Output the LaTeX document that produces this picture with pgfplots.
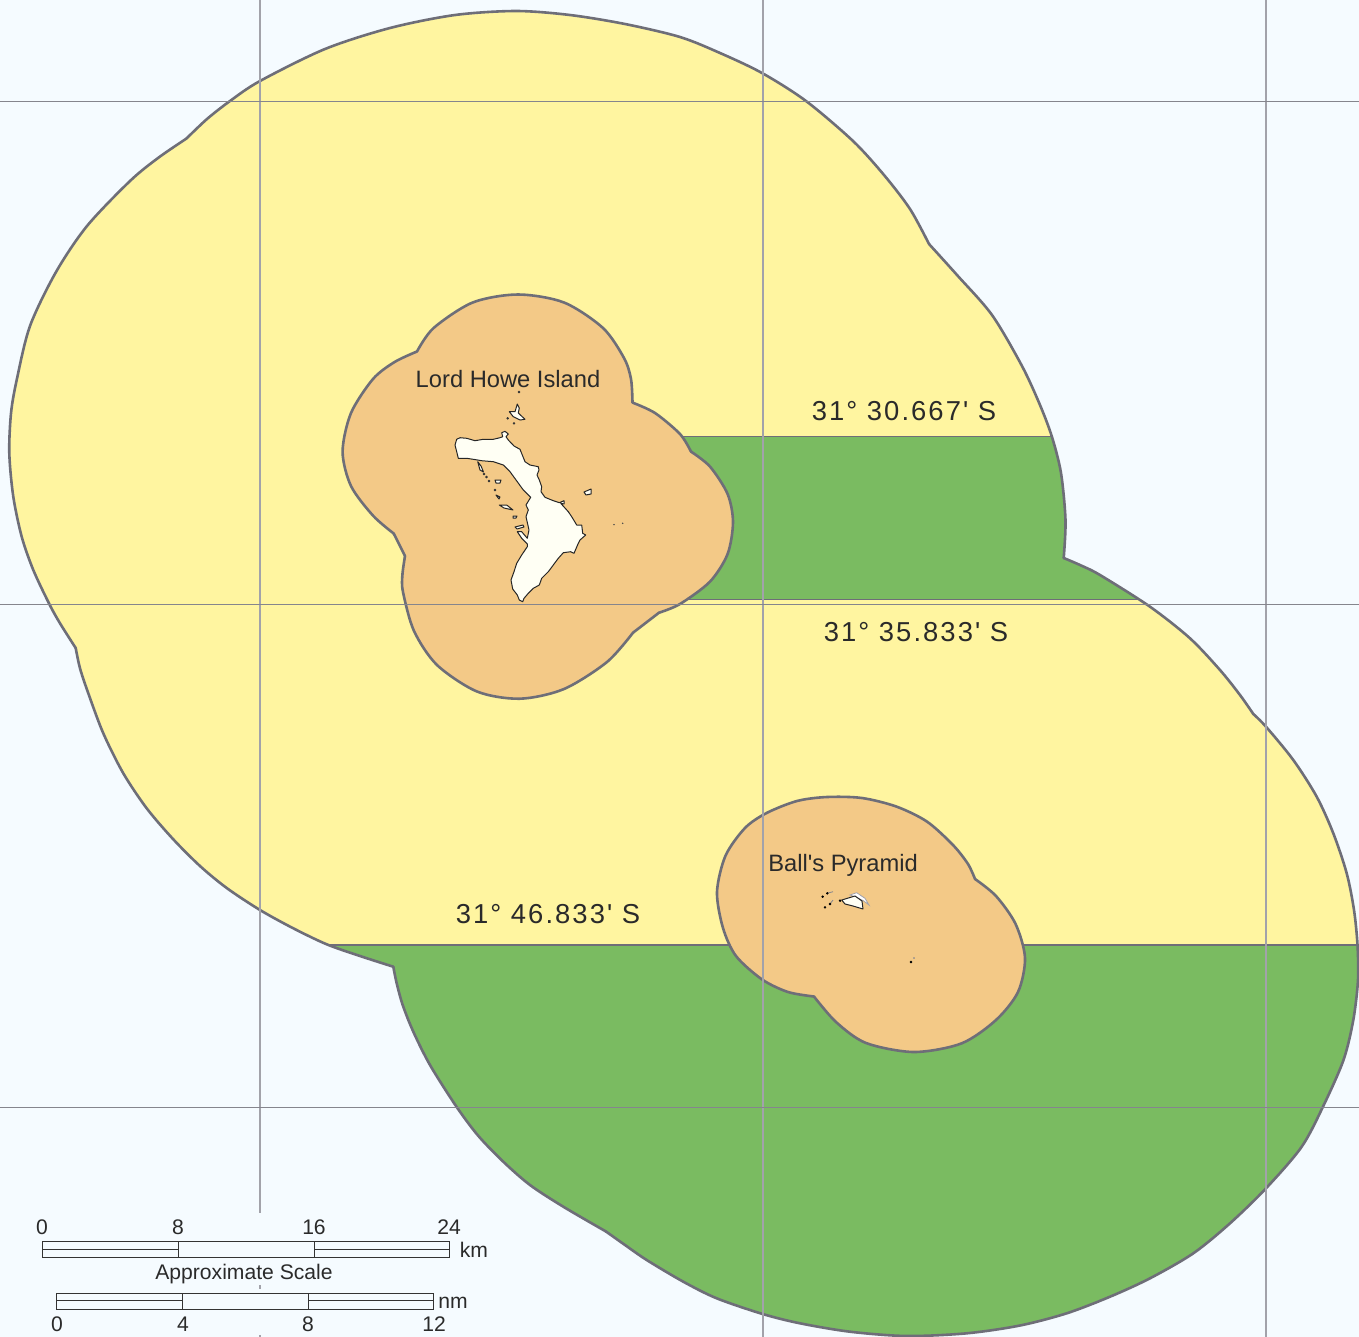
\documentclass[border=0pt]{standalone}
\usepackage{pgfplots}
\usepackage{pgfplotstable}
\pgfplotsset{compat=1.18}
\usepackage{fontspec}
\setmainfont{Liberation Sans}
\newfontfamily\plainfont{Liberation Sans}
\newfontfamily\spaced[LetterSpace=7.5]{Liberation Sans}
\definecolor{sea}{HTML}{F5FBFF}
\definecolor{yel}{HTML}{FFF5A0}
\definecolor{grn}{HTML}{7ABB61}
\definecolor{org}{HTML}{F3C987}
\definecolor{edge}{HTML}{6E6E78}
\definecolor{gridv}{HTML}{A2A2AA}
\definecolor{gridh}{HTML}{85858D}
\definecolor{isle}{HTML}{FFFFF4}
\definecolor{txt}{HTML}{2A2A2A}
\tikzset{
  lab/.style={font=\plainfont\fontsize{23.8}{24}\selectfont, text=txt},
  lat/.style={font=\spaced\fontsize{27.5}{28}\selectfont, text=txt},
  sc/.style={font=\fontsize{21.2}{21}\selectfont, text=txt},
}
\newcommand\tb[2]{\pgfplotstableread[row sep=\\]{x y\\ #2}#1}
% outer zone, one table per arc between the corners of the outline
\tb\aA{929 244\\ 957 275\\ 992 315\\ 1022 366\\ 1040 405\\ 1052 437\\ 1061 473\\ 1065.5 520\\ 1063.7 558\\}
\tb\aB{1063.7 558\\ 1080 565\\ 1100 575\\ 1150 606.7\\ 1190 638.3\\ 1220 670\\ 1240 695\\ 1253.3 714\\}
\tb\aC{1253.3 714\\ 1266 726.7\\ 1293.3 760\\ 1316.7 796.7\\ 1333.3 833.3\\ 1346.7 873.3\\ 1354 910\\ 1357.5 945\\ 1358 980\\ 1353.3 1020\\ 1343.5 1060\\ 1323.3 1106\\ 1301.5 1147\\ 1266 1188.3\\ 1230 1223.3\\ 1193.3 1253.3\\ 1150 1278.3\\ 1110 1296.7\\ 1066.7 1313.3\\ 1020 1325.5\\ 966.7 1333.3\\ 906.7 1336\\ 850 1331.7\\ 800 1323.3\\ 762.7 1314\\ 716.7 1298.3\\ 683.3 1281.7\\ 646.7 1260\\ 625 1245\\ 606 1231.5\\}
\tb\aD{606 1231.5\\ 563.3 1206.7\\ 530 1185\\ 503.3 1161.7\\ 478 1135.5\\ 456 1106\\ 430 1065\\ 413.3 1031.7\\ 402.7 1005\\ 396.7 983.3\\ 393.3 966.7\\}
\tb\aE{393.3 966.7\\ 360 956\\ 326.7 944.3\\ 293.3 928.3\\ 260 910\\ 226.7 888\\ 200 866\\ 173 839\\ 146.7 808.3\\ 123.3 773.3\\ 103.3 733.3\\ 88.3 693.3\\ 80 668.3\\ 75.7 648\\}
\tb\aF{75.7 648\\ 60 623.3\\ 49.3 604\\ 33.3 570\\ 21.7 536.7\\ 13.3 496.7\\ 9.3 453.3\\ 11 413.3\\ 16.7 380\\ 30 326\\ 56 272\\ 87 226\\ 130 181\\ 158 158\\ 186.5 138.5\\}
\tb\aG{186.5 138.5\\ 207 119\\ 230 101\\ 260 81\\ 325 49\\ 390 28\\ 455 15\\ 516 11\\ 570 15\\ 625 24\\ 680 37\\ 720 53\\ 762 73\\ 806 101\\ 853 141\\ 884 175\\ 910 209\\ 929 244\\}
% the arcs that bound the green bands
\tb\gA{1052 437\\ 1061 473\\ 1065.5 520\\ 1063.7 558\\}
\tb\gB{1063.7 558\\ 1080 565\\ 1100 575\\ 1139 599.5\\}
\tb\gC{1357.5 945\\ 1358 980\\ 1353.3 1020\\ 1343.5 1060\\ 1323.3 1106\\ 1301.5 1147\\ 1266 1188.3\\ 1230 1223.3\\ 1193.3 1253.3\\ 1150 1278.3\\ 1110 1296.7\\ 1066.7 1313.3\\ 1020 1325.5\\ 966.7 1333.3\\ 906.7 1336\\ 850 1331.7\\ 800 1323.3\\ 762.7 1314\\ 716.7 1298.3\\ 683.3 1281.7\\ 646.7 1260\\ 625 1245\\ 606 1231.5\\}
% Lord Howe buffer
\tb\oA{632.5 402.6\\ 655 413\\ 680 434\\ 691 451.6\\}
\tb\oB{691 451.6\\ 710 466.6\\ 727.6 494\\ 733 522\\ 727.6 554\\ 710 581.6\\ 680 604\\ 659 612.7\\}
\tb\oC{659 612.7\\ 633 632.7\\}
\tb\oD{633 632.7\\ 607 662\\ 564 689\\ 520 698.7\\ 477 691.5\\ 437 665\\ 414 631\\ 403 592\\ 402.4 575\\ 405 556\\}
\tb\oE{405 556\\ 393.7 533.5\\}
\tb\oF{393.7 533.5\\ 373 515.6\\ 351 486\\ 342.6 451.6\\ 351 413\\ 373 379\\ 394.6 362\\ 417 351.5\\}
\tb\oG{417 351.5\\ 433.6 328\\ 472.7 302.5\\ 518 294.5\\ 564 302.5\\ 603 328\\ 624 358\\ 631 379\\ 632.5 402.6\\}
% Ball's Pyramid buffer
\tb\bA{975 879\\ 996 896\\ 1015.6 924\\ 1025 958\\ 1018 992\\ 996 1020\\ 961.5 1043.4\\ 914 1052\\ 866 1043\\ 836 1022\\ 814 996.5\\}
\tb\bB{814 996.5\\ 788 992\\ 762 979.4\\ 736 956\\ 723 928\\ 717 892\\ 725.5 855.7\\ 745 828\\ 766.6 813\\ 797 801\\ 827 797\\ 862 798\\ 896.5 806.6\\ 927 821.6\\ 953 845\\ 968 864\\ 975 879\\}
\newcommand\bulge[2]{\addplot[draw=none, fill=#1, smooth] table {#2} --cycle;}
\newcommand\arcline[1]{\addplot[zone, smooth] table {#1};}
\begin{document}
\begin{tikzpicture}
\begin{axis}[
  x=1bp, y=1bp, y dir=reverse,
  xmin=0, xmax=1359, ymin=0, ymax=1337,
  xtick=\empty, ytick=\empty, axis line style={draw=none},
  axis background/.style={fill=sea},
  zone/.style={line width=2.6bp, draw=edge, line join=round, line cap=round},
  scalebar/.style={line width=1bp, draw=black!80},
  islet/.style={line width=1bp, draw=black!85, fill=isle, line join=round},
  gridx/.style={line width=1.3bp, draw=gridv},
  gridy/.style={line width=1bp, draw=gridh},
]
% outer zone
\addplot[draw=none, fill=yel] coordinates {
(929,244)(957,275)(992,315)(1022,366)(1040,405)(1052,437)(1061,473)(1065.5,520)(1063.7,558)(1080,565)(1100,575)(1150,606.7)(1190,638.3)(1220,670)(1240,695)(1253.3,714)
(1266,726.7)(1293.3,760)(1316.7,796.7)(1333.3,833.3)(1346.7,873.3)(1354,910)(1357.5,945)(1358,980)(1353.3,1020)(1343.5,1060)(1323.3,1106)(1301.5,1147)(1266,1188.3)(1230,1223.3)(1193.3,1253.3)(1150,1278.3)(1110,1296.7)(1066.7,1313.3)(1020,1325.5)(966.7,1333.3)(906.7,1336)(850,1331.7)(800,1323.3)(762.7,1314)(716.7,1298.3)(683.3,1281.7)(646.7,1260)(625,1245)(606,1231.5)
(563.3,1206.7)(530,1185)(503.3,1161.7)(478,1135.5)(456,1106)(430,1065)(413.3,1031.7)(402.7,1005)(396.7,983.3)(393.3,966.7)
(360,956)(326.7,944.3)(293.3,928.3)(260,910)(226.7,888)(200,866)(173,839)(146.7,808.3)(123.3,773.3)(103.3,733.3)(88.3,693.3)(80,668.3)(75.7,648)
(60,623.3)(49.3,604)(33.3,570)(21.7,536.7)(13.3,496.7)(9.3,453.3)(11,413.3)(16.7,380)(30,326)(56,272)(87,226)(130,181)(158,158)(186.5,138.5)
(207,119)(230,101)(260,81)(325,49)(390,28)(455,15)(516,11)(570,15)(625,24)(680,37)(720,53)(762,73)(806,101)(853,141)(884,175)(910,209)
} --cycle;
\bulge{yel}{\aA}\bulge{yel}{\aB}\bulge{yel}{\aC}\bulge{yel}{\aD}\bulge{yel}{\aE}\bulge{yel}{\aF}\bulge{yel}{\aG}
% green bands
\addplot[draw=none, fill=grn] coordinates {(600,436.7)(1052,436.7)(1061,473)(1065.5,520)(1063.7,558)(1080,565)(1100,575)(1139,599.5)(600,599.5)} --cycle;
\bulge{grn}{\gA}\bulge{grn}{\gB}
\addplot[draw=none, fill=grn] coordinates {
(327,945)(1357.5,945)(1358,980)(1353.3,1020)(1343.5,1060)(1323.3,1106)(1301.5,1147)(1266,1188.3)(1230,1223.3)(1193.3,1253.3)(1150,1278.3)(1110,1296.7)(1066.7,1313.3)(1020,1325.5)(966.7,1333.3)(906.7,1336)(850,1331.7)(800,1323.3)(762.7,1314)(716.7,1298.3)(683.3,1281.7)(646.7,1260)(625,1245)(606,1231.5)
(563.3,1206.7)(530,1185)(503.3,1161.7)(478,1135.5)(456,1106)(430,1065)(413.3,1031.7)(402.7,1005)(396.7,983.3)(393.3,966.7)(360,956)
} --cycle;
\bulge{grn}{\gC}\bulge{grn}{\aD}
\addplot[line width=1bp, draw=edge] coordinates {(1052,436.7)(680,436.7)};
\addplot[line width=1bp, draw=edge] coordinates {(1139,599.5)(680,599.5)};
\addplot[line width=1.2bp, draw=edge] coordinates {(327,945)(1357.5,945)};
% outer edge over the fills
\arcline{\aA}\arcline{\aB}\arcline{\aC}\arcline{\aD}\arcline{\aE}\arcline{\aF}\arcline{\aG}
% inner zones
\addplot[draw=none, fill=org] coordinates {
(632.5,402.6)(655,413)(680,434)(691,451.6)(710,466.6)(727.6,494)(733,522)(727.6,554)(710,581.6)(680,604)(659,612.7)(633,632.7)
(607,662)(564,689)(520,698.7)(477,691.5)(437,665)(414,631)(403,592)(402.4,575)(405,556)(393.7,533.5)
(373,515.6)(351,486)(342.6,451.6)(351,413)(373,379)(394.6,362)(417,351.5)
(433.6,328)(472.7,302.5)(518,294.5)(564,302.5)(603,328)(624,358)(631,379)
} --cycle;
\bulge{org}{\oA}\bulge{org}{\oB}\bulge{org}{\oD}\bulge{org}{\oF}\bulge{org}{\oG}
\arcline{\oA}\arcline{\oB}\arcline{\oC}\arcline{\oD}\arcline{\oE}\arcline{\oF}\arcline{\oG}
\addplot[draw=none, fill=org] coordinates {
(975,879)(996,896)(1015.6,924)(1025,958)(1018,992)(996,1020)(961.5,1043.4)(914,1052)(866,1043)(836,1022)(814,996.5)
(788,992)(762,979.4)(736,956)(723,928)(717,892)(725.5,855.7)(745,828)(766.6,813)(797,801)(827,797)(862,798)(896.5,806.6)(927,821.6)(953,845)(968,864)
} --cycle;
\bulge{org}{\bA}\bulge{org}{\bB}
\arcline{\bA}\arcline{\bB}
% Lord Howe Island
\addplot[islet] coordinates {
(456.7,439.3)(460,437.7)(466.7,438.3)(475,440.7)(483.3,439.3)(493.3,439.3)(500,437.7)(502.7,436.7)(501.7,432.7)(505,431.3)(508.3,434)(506,436.7)
(508.3,440)(514,446)(520,449.3)(522.3,455)(525,461.7)(530,465)(538.3,466.7)(539,470)(537,475)(539.3,480)(541.7,486.7)(541,491.7)(545,497.3)
(553.3,500.7)(559.3,502.7)(564,500.7)(564,504)(560.7,503.3)(568.3,511.7)(571.7,516.7)(576.7,525)(581.7,525)(582.7,533.3)(585.7,535)(580,540)
(578.3,543.3)(574,553.3)(570.7,551.7)(563.3,552.7)(558.3,558.3)(553.3,565)(548.3,571.7)(541.7,578.3)(539.3,585)(533.3,588.3)(528.3,593.3)
(524,598.3)(522.7,601.7)(519.3,600)(517.3,595)(512.7,589)(511,580)(514,571.7)(516.7,563.3)(521.7,555)(527.3,546.7)(527.3,544)(521.7,538.3)
(517.3,531.7)(521.7,531.7)(527.3,538.3)(529,530)(526,516.7)(528.3,510)(526,505)(530.7,497.3)(523.3,490)(517.3,481.7)(510,471.7)(503.3,465)
(493.3,461.7)(481.7,460.7)(473.3,459.3)(466.7,458.3)(458.3,458.3)(456.7,451.7)(455,445)
} --cycle;
\addplot[islet] coordinates {(509.3,411.7)(515,411.7)(517.3,404)(519.3,408)(518.3,413)(525,419.3)(520,420)(513.3,416.7)} --cycle;
\addplot[islet] coordinates {(477.7,461.7)(481,466)(483.5,472)(480,470)} --cycle;
\addplot[islet] coordinates {(495,480)(501,480)(500,483)(496,483)} --cycle;
\addplot[islet] coordinates {(496,495)(500,497)(499,499)} --cycle;
\addplot[islet] coordinates {(499.3,505)(506.7,505)(513,510)(504,508)} --cycle;
\addplot[islet] coordinates {(513,516)(517,516)(516,518)(513,518)} --cycle;
\addplot[islet] coordinates {(515,527)(523,525)(524,527)(517,529)} --cycle;
\addplot[islet] coordinates {(584,492)(591,489)(591,494)(586,495)} --cycle;
\addplot[only marks, mark=*, mark size=1bp, black!80] coordinates {(484,474)(486.5,477)(489,481)(519,392)(507.7,418.3)(514,423.3)(495,490)};
\addplot[only marks, mark=*, mark size=0.5bp, black!70] coordinates {(614,524.7)(622.7,523.3)};
% Ball's Pyramid
\addplot[line width=0.8bp, draw=gridv, fill=white] coordinates {(850,895)(856.7,892.7)(865,898.3)(869,905)(863.3,900.7)(855,896.7)} --cycle;
\addplot[islet] coordinates {(841.7,900)(855,896)(862,901)(863,909)(853,906)(845,904)} --cycle;
\addplot[only marks, mark=*, mark size=1bp, black] coordinates {(822.7,896.7)(827.3,893.3)(825,907.3)(830,904)(840,900.7)(911,962)};
\addplot[line width=0.8bp, draw=gridh] coordinates {(828,893)(833,891.7)};
\addplot[line width=0.8bp, draw=gridh] coordinates {(830,904)(833,900)};
\addplot[only marks, mark=*, mark size=0.5bp, gridh] coordinates {(914,958)};
% graticule
\addplot[gridx] coordinates {(260,0)(260,1213)};
\addplot[gridx] coordinates {(260,1285)(260,1289)};
\addplot[gridx] coordinates {(260,1335)(260,1337)};
\addplot[gridx] coordinates {(763,0)(763,1337)};
\addplot[gridx] coordinates {(1266,0)(1266,1337)};
\addplot[gridy] coordinates {(0,101)(1359,101)};
\addplot[gridy] coordinates {(0,604)(1359,604)};
\addplot[gridy] coordinates {(0,1107)(1359,1107)};
% scale bars
\addplot[scalebar] coordinates {(42.3,1241)(449.3,1241)(449.3,1257)(42.3,1257)} --cycle;
\addplot[scalebar] coordinates {(178.3,1241)(178.3,1257)};
\addplot[scalebar] coordinates {(314,1241)(314,1257)};
\addplot[scalebar] coordinates {(42.3,1249)(178.3,1249)};
\addplot[scalebar] coordinates {(314,1249)(449.3,1249)};
\addplot[scalebar] coordinates {(56.7,1293.7)(433.7,1293.7)(433.7,1309.3)(56.7,1309.3)} --cycle;
\addplot[scalebar] coordinates {(182.7,1293.7)(182.7,1309.3)};
\addplot[scalebar] coordinates {(308,1293.7)(308,1309.3)};
\addplot[scalebar] coordinates {(56.7,1300.7)(182.7,1300.7)};
\addplot[scalebar] coordinates {(308,1300.7)(433.7,1300.7)};
% labels
\node[lab] at (axis cs:508,379) {Lord Howe Island};
\node[lab] at (axis cs:843,865) {Ball's Pyramid};
\node[lat] at (axis cs:904,411) {31° 30.667' S};
\node[lat] at (axis cs:916,632) {31° 35.833' S};
\node[lat] at (axis cs:548,914) {31° 46.833' S};
\node[sc] at (axis cs:42,1227) {0};
\node[sc] at (axis cs:178,1227) {8};
\node[sc] at (axis cs:314,1227) {16};
\node[sc] at (axis cs:449,1227) {24};
\node[sc] at (axis cs:474,1250) {km};
\node[sc] at (axis cs:244,1274) {Approximate Scale};
\node[sc] at (axis cs:453,1303) {nm};
\node[sc] at (axis cs:57,1324) {0};
\node[sc] at (axis cs:183,1324) {4};
\node[sc] at (axis cs:308,1324) {8};
\node[sc] at (axis cs:434,1324) {12};
\end{axis}
\end{tikzpicture}
\end{document}
